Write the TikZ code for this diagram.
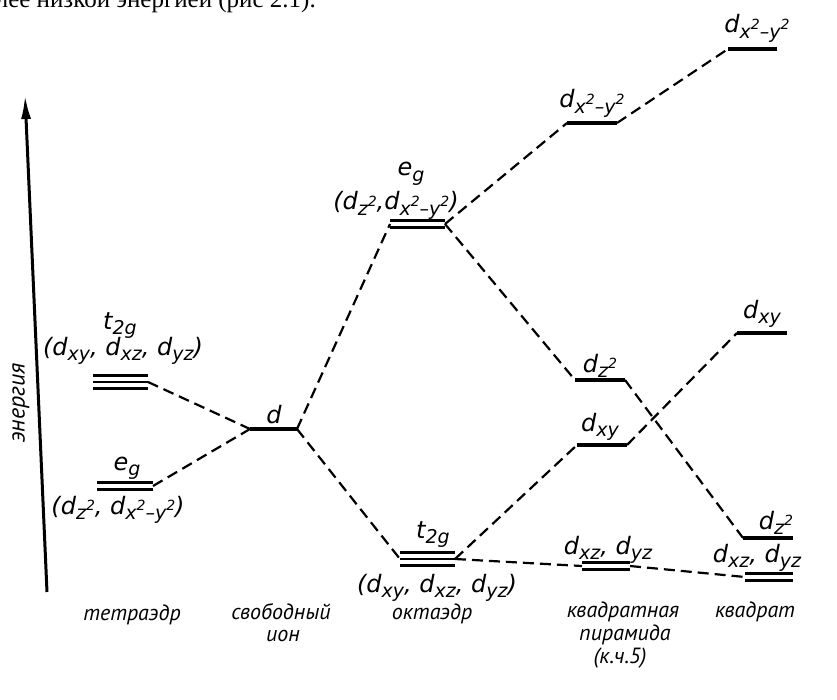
\documentclass[tikz,border=0pt]{standalone}
\usepackage{fontspec}
\setmainfont{PT Sans}
\newfontfamily\serifrm{Liberation Serif}
\newfontfamily\orbfont{DejaVu Sans}
\usetikzlibrary{arrows.meta}
\newcommand{\lbfont}{\orbfont\fontsize{24}{28}\selectfont\itshape}
\newcommand{\nmfont}{\fontsize{22}{26}\selectfont\itshape}
\newcommand{\osb}[1]{\raisebox{-0.4ex}{\fontsize{19}{19}\selectfont #1}}
\newcommand{\osp}[1]{\raisebox{0.8ex}{\fontsize{14}{14}\selectfont #1}}
\newcommand{\dsq}{d\osb{x\osp{2}\textendash y\osp{2}}}
\newcommand{\dzz}{d\osb{z\osp{2}}}
\tikzset{
  lvl/.style={line width=3.6pt},
  sublvl/.style={line width=2.5pt},
  conn/.style={line width=2.2pt, dash pattern=on 11pt off 6pt},
  lab/.style={font=\lbfont, inner sep=0pt, anchor=base},
  nm/.style={font=\nmfont, inner sep=0pt, anchor=base},
}
\begin{document}
\begin{tikzpicture}[x=1pt,y=-1pt]
\useasboundingbox (0,0) rectangle (837,700);
\clip (0,0) rectangle (837,700);
\fill[white] (0,0) rectangle (837,700);

% cut-off text line of the page
\node[font=\serifrm\fontsize{25}{28}\selectfont, anchor=base east, inner sep=0pt] (pagetext) at (316,8) {более низкой энергией (рис 2.1).};

% energy axis
\coordinate (axB) at (47,592);
\coordinate (axT) at (25,95);
\draw[line width=3pt, -{Latex[length=24pt,width=10pt]}] (axB) -- (axT);
\node[font=\fontsize{24}{28}\selectfont\itshape, rotate=90, inner sep=0pt] (energy) at (21,403) {энергия};

% level coordinates
\coordinate (ttL) at (93,382);  \coordinate (ttR) at (148,382);
\coordinate (teL) at (97,486);  \coordinate (teR) at (153,486);
\coordinate (fdL) at (250,429); \coordinate (fdR) at (297,429);
\coordinate (oeL) at (390,224); \coordinate (oeR) at (445,224);
\coordinate (otL) at (400,559); \coordinate (otR) at (455,559);
\coordinate (pxL) at (567,123); \coordinate (pxR) at (617,123);
\coordinate (pzL) at (575,380); \coordinate (pzR) at (625,380);
\coordinate (pyL) at (577,445); \coordinate (pyR) at (627,445);
\coordinate (pwL) at (582,566); \coordinate (pwR) at (630,566);
\coordinate (sxL) at (728,49);  \coordinate (sxR) at (777,49);
\coordinate (syL) at (737,333); \coordinate (syR) at (787,333);
\coordinate (szL) at (743,538); \coordinate (szR) at (793,538);
\coordinate (swL) at (745,577); \coordinate (swR) at (793,577);

% single levels
\draw[lvl] (fdL) -- (fdR);
\draw[lvl] (pxL) -- (pxR);
\draw[lvl] (pzL) -- (pzR);
\draw[lvl] (pyL) -- (pyR);
\draw[lvl] (sxL) -- (sxR);
\draw[lvl] (syL) -- (syR);
\draw[lvl] (szL) -- (szR);
% double levels
\foreach \o in {-3.5,3.5} {
  \draw[sublvl] ([yshift=\o pt]teL) -- ([yshift=\o pt]teR);
  \draw[sublvl] ([yshift=\o pt]oeL) -- ([yshift=\o pt]oeR);
  \draw[sublvl] ([yshift=\o pt]pwL) -- ([yshift=\o pt]pwR);
  \draw[sublvl] ([yshift=\o pt]swL) -- ([yshift=\o pt]swR);
}
% triple levels
\foreach \o in {-6.5,0,6.5} {
  \draw[sublvl] ([yshift=\o pt]ttL) -- ([yshift=\o pt]ttR);
  \draw[sublvl] ([yshift=\o pt]otL) -- ([yshift=\o pt]otR);
}

% connectors
\draw[conn] (ttR) -- (fdL);
\draw[conn] (teR) -- (fdL);
\draw[conn] (fdR) -- (oeL);
\draw[conn] (fdR) -- (otL);
\draw[conn] (oeR) -- (pxL);
\draw[conn] (oeR) -- (pzL);
\draw[conn] (otR) -- (pyL);
\draw[conn] (otR) -- (pwL);
\draw[conn] (pxR) -- (sxL);
\draw[conn] (pzR) -- (szL);
\draw[conn] (pyR) -- (syL);
\draw[conn] (pwR) -- (swL);

% level labels
\node[lab] (lt1) at (120,329) {t\osb{2g}};
\node[lab] (lt2) at (123,355) {(d\osb{xy}, d\osb{xz}, d\osb{yz})};
\node[lab] (le1) at (127,470) {e\osb{g}};
\node[lab] (le2) at (118,514) {(\dzz, \dsq)};
\node[lab] (ld) at (274,423) {d};
\node[lab] (lo1) at (411,176) {e\osb{g}};
\node[lab] (lo2) at (396,210) {(\dzz,\dsq)};
\node[lab] (lo3) at (433,538) {t\osb{2g}};
\node[lab] (lo4) at (437,592) {(d\osb{xy}, d\osb{xz}, d\osb{yz})};
\node[lab] (lp1) at (592,108) {\dsq};
\node[lab] (lp2) at (600,372) {\dzz};
\node[lab] (lp3) at (600,431) {d\osb{xy}};
\node[lab] (lp4) at (608,554) {d\osb{xz}, d\osb{yz}};
\node[lab] (ls1) at (757,33) {\dsq};
\node[lab] (ls2) at (762,318) {d\osb{xy}};
\node[lab] (ls3) at (776,529) {\dzz};
\node[lab] (ls4) at (757,562) {d\osb{xz}, d\osb{yz}};

% names
\node[nm] (n1) at (132,620) {тетраэдр};
\node[nm] (n2a) at (281,619) {свободный};
\node[nm] (n2b) at (283,641) {ион};
\node[nm] (n3) at (432,619) {октаэдр};
\node[nm] (n4a) at (623,617) {квадратная};
\node[nm] (n4b) at (625,640) {пирамида};
\node[nm] (n4c) at (620,663) {(к.ч.5)};
\node[nm] (n5) at (755,617) {квадрат};
\end{tikzpicture}
\end{document}
